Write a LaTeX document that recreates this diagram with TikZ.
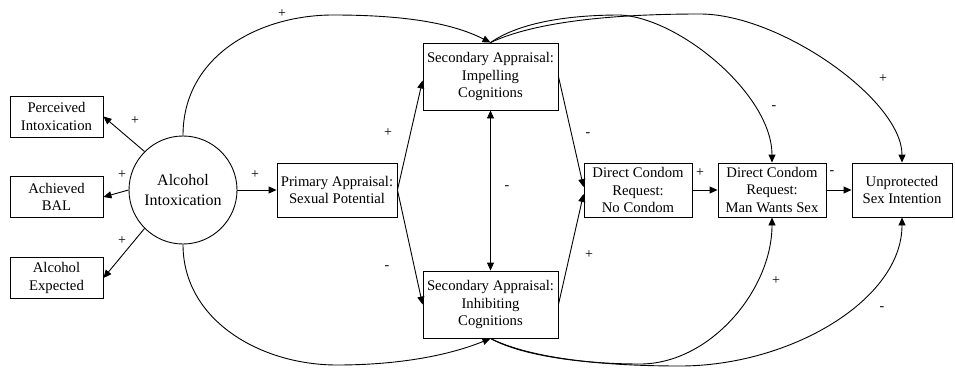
\documentclass[tikz,border=0pt]{standalone}
\usepackage{fontspec}
\setmainfont{Liberation Serif}
\usetikzlibrary{arrows.meta,calc}
\begin{document}
\begin{tikzpicture}[x=1pt,y=-1pt, line width=0.9pt,
  box/.style={draw, rectangle, inner sep=0pt, align=center, font=\fontsize{14.7}{17.5}\selectfont},
  lbl/.style={inner sep=0pt, font=\fontsize{14}{14}\selectfont},
  arr/.style={-{Triangle[length=8pt,width=7pt]}},
  darr/.style={{Triangle[length=8pt,width=7pt]}-{Triangle[length=8pt,width=7pt]}},
  ]
\useasboundingbox (0,0) rectangle (955,369);
\node[draw, circle, minimum size=108pt, inner sep=0pt, align=center, font=\fontsize{16}{20}\selectfont] (circ) at (183,190) {Alcohol\\Intoxication};
\node[box, minimum width=93pt, minimum height=41pt] (perc) at (56.5,116.5) {Perceived\\Intoxication};
\node[box, minimum width=93pt, minimum height=41pt] (ach) at (56.5,197) {Achieved\\BAL};
\node[box, minimum width=93pt, minimum height=41pt] (expc) at (56.5,278) {Alcohol\\Expected};
\node[box, minimum width=120pt, minimum height=54pt] (prim) at (337,190) {Primary Appraisal:\\Sexual Potential};
\node[box, minimum width=135pt, minimum height=67pt] (imp) at (490.5,76.5) {Secondary Appraisal:\\Impelling\\Cognitions};
\node[box, minimum width=135pt, minimum height=67pt] (inh) at (490.5,304.5) {Secondary Appraisal:\\Inhibiting\\Cognitions};
\node[box, minimum width=108pt, minimum height=54pt] (nc) at (638,190) {Direct Condom\\Request:\\No Condom};
\node[box, minimum width=108pt, minimum height=54pt] (mw) at (772,190) {Direct Condom\\Request:\\Man Wants Sex};
\node[box, minimum width=100pt, minimum height=54pt] (up) at (902,190) {Unprotected\\Sex Intention};

% straight connectors
\draw[arr] (circ.135) -- (perc.east);
\draw[arr] (circ.180) -- (ach.east);
\draw[arr] (circ.225) -- (expc.east);
\draw[arr] (circ.east) -- (prim.west);
\draw[arr] (prim.east) -- ($(imp.west)+(0,4)$);
\draw[arr] (prim.east) -- (inh.west);
\draw[arr] (imp.east) -- ($(nc.west)+(0,-3)$);
\draw[arr] (inh.east) -- ($(nc.west)+(0,4)$);
\draw[darr] (imp.south) -- (inh.north);
\draw[arr] (nc.east) -- (mw.west);
\draw[arr] (mw.east) -- (up.west);

% curved connectors
\draw[arr] (circ.north) .. controls (183,55) and (260,15) .. (333,15) .. controls (400,15) and (450,22) .. (imp.north);
\draw[arr] (circ.south) .. controls (183,320) and (260,365) .. (337,365) .. controls (400,365) and (450,355) .. (inh.south);
\draw[arr] (imp.north) .. controls (520,22) and (570,15) .. (620,15) .. controls (680,18) and (772,95) .. (mw.north);
\draw[arr] (imp.north) .. controls (530,24) and (600,14) .. (700,14) .. controls (780,14) and (902,100) .. (up.north);
\draw[arr] (inh.south) .. controls (520,355) and (580,364) .. (640,364) .. controls (710,364) and (772,290) .. (mw.south);
\draw[arr] (inh.south) .. controls (530,358) and (600,366) .. (680,366) .. controls (790,366) and (902,300) .. (up.south);

% labels
\node[lbl] (l1) at (135,121) {+};
\node[lbl] (l2) at (122,175) {+};
\node[lbl] (l3) at (122,241) {+};
\node[lbl] (l4) at (255,175) {+};
\node[lbl] (l5) at (282,14) {+};
\node[lbl] (l6) at (388,133) {+};
\node[lbl] (l7) at (387,268) {-};
\node[lbl] (l8) at (507,188) {-};
\node[lbl] (l9) at (588,135) {-};
\node[lbl] (l10) at (589,255) {+};
\node[lbl] (l11) at (700,173) {+};
\node[lbl] (l12) at (832,173) {-};
\node[lbl] (l13) at (774,108) {-};
\node[lbl] (l14) at (883,79) {+};
\node[lbl] (l15) at (776,281) {+};
\node[lbl] (l16) at (882,309) {-};
\end{tikzpicture}
\end{document}
